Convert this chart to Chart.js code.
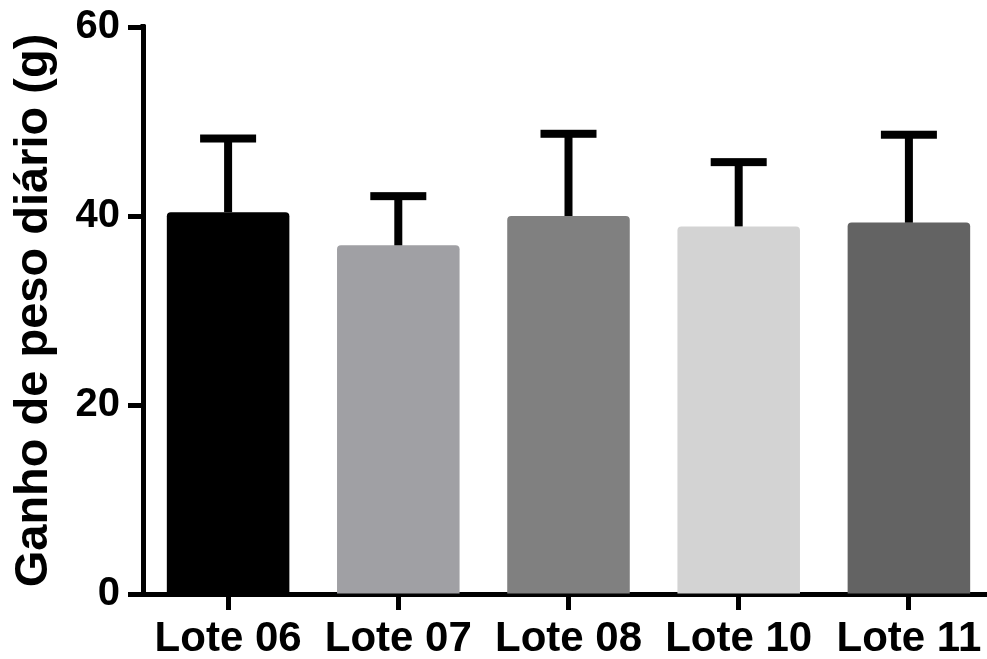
<!DOCTYPE html>
<html>
<head>
<meta charset="utf-8">
<script src="https://cdn.jsdelivr.net/npm/chart.js@4"></script>
<style>
  html, body { margin: 0; padding: 0; overflow: hidden; background: #fff; }
  #wrap { width: 1000px; height: 659px; }
</style>
</head>
<body>
<div id="wrap"><canvas id="c" width="1000" height="659"></canvas></div>
<script>
// Daily weight gain per batch (mean and standard deviation, grams)
const lotes = ['Lote 06', 'Lote 07', 'Lote 08', 'Lote 10', 'Lote 11'];
const media = [40.4, 36.9, 40.0, 38.9, 39.3];
const desvio = [7.8, 5.2, 8.7, 6.8, 9.3];
const cores = ['#000000', '#a0a0a4', '#808080', '#d3d3d3', '#636363'];
const yTicks = [0, 20, 40, 60];

const FONT = '"Liberation Sans", Arial, Helvetica, sans-serif';

// Upper error bars (mean + SD) with a horizontal cap
const errorBars = {
  id: 'errorBars',
  afterDatasetsDraw(chart) {
    const meta = chart.getDatasetMeta(0);
    const y = chart.scales.y;
    const ctx = chart.ctx;
    ctx.save();
    ctx.fillStyle = '#000';
    meta.data.forEach((bar, i) => {
      const x = bar.x;
      const yMean = y.getPixelForValue(media[i]);
      const yTop = y.getPixelForValue(media[i] + desvio[i]);
      const lw = 8, capW = 56;
      ctx.fillRect(x - lw / 2, yTop, lw, yMean - yTop);
      ctx.fillRect(x - capW / 2, yTop - lw / 2, capW, lw);
    });
    ctx.restore();
  }
};

// Extend the y axis line slightly above the top tick
const axisTop = {
  id: 'axisTop',
  afterDraw(chart) {
    const a = chart.chartArea;
    const ctx = chart.ctx;
    ctx.save();
    ctx.fillStyle = '#000';
    ctx.fillRect(a.left - 2.5, a.top - 3, 5, 4);
    ctx.restore();
  }
};

new Chart(document.getElementById('c'), {
  type: 'bar',
  data: {
    labels: lotes,
    datasets: [{
      data: media,
      backgroundColor: cores,
      borderWidth: 0,
      borderRadius: 4,
      borderSkipped: 'start',
      barPercentage: 0.72,
      categoryPercentage: 1.0
    }]
  },
  options: {
    responsive: false,
    animation: false,
    events: [],
    layout: { padding: { top: 27, right: 6, bottom: 0, left: 0 } },
    plugins: {
      legend: { display: false },
      tooltip: { enabled: false }
    },
    scales: {
      x: {
        offset: true,
        grid: {
          offset: false,
          drawOnChartArea: false,
          drawTicks: true,
          tickLength: 16,
          tickWidth: 5,
          tickColor: '#000'
        },
        border: { display: true, color: '#000', width: 5 },
        ticks: {
          color: '#000',
          padding: 4,
          maxRotation: 0,
          autoSkip: false,
          font: { family: FONT, size: 42, weight: 'bold' }
        },
        afterFit(scale) { scale.height = 65; }
      },
      y: {
        min: 0,
        max: 60,
        afterBuildTicks(scale) { scale.ticks = yTicks.map(v => ({ value: v })); },
        grid: {
          drawOnChartArea: false,
          drawTicks: true,
          tickLength: 15,
          tickWidth: 5,
          tickColor: '#000'
        },
        border: { display: true, color: '#000', width: 5 },
        ticks: {
          color: '#000',
          padding: 8,
          font: { family: FONT, size: 40, weight: 'bold' }
        },
        title: {
          display: true,
          text: 'Ganho de peso diário (g)',
          color: '#000',
          padding: { top: 6, bottom: 0 },
          font: { family: FONT, size: 47, weight: 'bold' }
        },
        afterFit(scale) {
          scale.width = 143;
          scale.paddingTop = 0;
          scale.paddingBottom = 0;
        }
      }
    }
  },
  plugins: [errorBars, axisTop]
});
</script>
</body>
</html>
